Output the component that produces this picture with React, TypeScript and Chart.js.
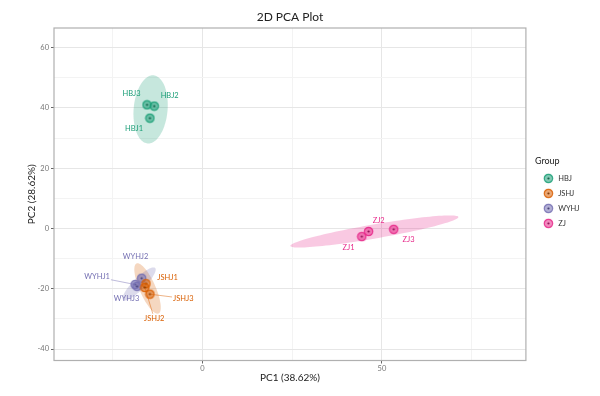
import React, { useEffect, useRef } from 'react';
import { Chart, registerables } from 'chart.js';

Chart.register(...registerables);

const FONT = 'Lato, "Liberation Sans", sans-serif';

const groups = ['HBJ', 'JSHJ', 'WYHJ', 'ZJ'];
const groupColors = ['#1B9E77', '#D95F02', '#7570B3', '#E7298A'];
const groupDark = ['#0d5a43', '#7a3401', '#3f3b70', '#8a0f4f'];

// samples per group (PC1 / PC2 scores)
const hbjSamples = ['HBJ1', 'HBJ2', 'HBJ3'];
const hbjPC1 = [-14.6, -13.4, -15.4];
const hbjPC2 = [36.6, 40.6, 41.0];

const jshjSamples = ['JSHJ1', 'JSHJ2', 'JSHJ3'];
const jshjPC1 = [-15.7, -16.0, -14.6];
const jshjPC2 = [-18.3, -19.6, -21.8];

const wyhjSamples = ['WYHJ1', 'WYHJ2', 'WYHJ3'];
const wyhjPC1 = [-18.7, -16.9, -18.2];
const wyhjPC2 = [-18.6, -16.5, -19.2];

const zjSamples = ['ZJ1', 'ZJ2', 'ZJ3'];
const zjPC1 = [44.4, 46.3, 53.3];
const zjPC2 = [-2.7, -1.0, -0.3];

// repelled label anchors (data units)
const hbjLabelX = [-19.0, -9.1, -19.7];
const hbjLabelY = [33.0, 44.2, 44.6];
const jshjLabelX = [-9.7, -13.4, -5.3];
const jshjLabelY = [-16.3, -29.8, -23.2];
const wyhjLabelX = [-29.3, -18.6, -21.1];
const wyhjLabelY = [-16.1, -9.4, -23.2];
const zjLabelX = [40.7, 49.1, 57.4];
const zjLabelY = [-6.4, 2.6, -3.8];

// confidence ellipses (centre and semi-axis vectors, data units)
const ellipseCX = [-14.4, -15.25, -17.6, 47.9];
const ellipseCY = [39.5, -19.9, -18.4, -1.0];
const ellipseMajorX = [0.84, 3.07, 4.46, 23.4];
const ellipseMajorY = [11.3, -8.3, 5.31, 4.8];
const ellipseMinorX = [4.7, 2.03, 1.18, 0.33];
const ellipseMinorY = [-0.5, 1.09, -1.4, -2.3];

const xMajorTicks = [0, 50];
const xMinorTicks = [-25, 25, 75];
const yMajorTicks = [-40, -20, 0, 20, 40, 60];
const yMinorTicks = [-30, -10, 10, 30, 50];

const groupSamples = [hbjSamples, jshjSamples, wyhjSamples, zjSamples];
const groupPC1 = [hbjPC1, jshjPC1, wyhjPC1, zjPC1];
const groupPC2 = [hbjPC2, jshjPC2, wyhjPC2, zjPC2];
const groupLabelX = [hbjLabelX, jshjLabelX, wyhjLabelX, zjLabelX];
const groupLabelY = [hbjLabelY, jshjLabelY, wyhjLabelY, zjLabelY];

function hexA(hex: string, a: number) {
  const r = parseInt(hex.slice(1, 3), 16);
  const g = parseInt(hex.slice(3, 5), 16);
  const b = parseInt(hex.slice(5, 7), 16);
  return `rgba(${r},${g},${b},${a})`;
}

function makeMarker(color: string, dark: string) {
  const c = document.createElement('canvas');
  c.width = 11;
  c.height = 11;
  const ctx = c.getContext('2d')!;
  ctx.beginPath();
  ctx.arc(5.5, 5.5, 4.2, 0, Math.PI * 2);
  ctx.fillStyle = hexA(color, 0.55);
  ctx.fill();
  ctx.lineWidth = 1.2;
  ctx.strokeStyle = hexA(color, 0.9);
  ctx.stroke();
  ctx.beginPath();
  ctx.arc(5.5, 5.5, 1.1, 0, Math.PI * 2);
  ctx.fillStyle = dark;
  ctx.fill();
  return c;
}

const ellipsePlugin = {
  id: 'ellipses',
  beforeDatasetsDraw(chart: any) {
    const { ctx, chartArea, scales } = chart;
    ctx.save();
    ctx.beginPath();
    ctx.rect(chartArea.left, chartArea.top, chartArea.right - chartArea.left, chartArea.bottom - chartArea.top);
    ctx.clip();
    groups.forEach((_, gi) => {
      ctx.beginPath();
      for (let k = 0; k <= 120; k++) {
        const t = (k / 120) * Math.PI * 2;
        const dx = ellipseCX[gi] + ellipseMajorX[gi] * Math.cos(t) + ellipseMinorX[gi] * Math.sin(t);
        const dy = ellipseCY[gi] + ellipseMajorY[gi] * Math.cos(t) + ellipseMinorY[gi] * Math.sin(t);
        const px = scales.x.getPixelForValue(dx);
        const py = scales.y.getPixelForValue(dy);
        if (k === 0) ctx.moveTo(px, py);
        else ctx.lineTo(px, py);
      }
      ctx.closePath();
      ctx.fillStyle = hexA(groupColors[gi], 0.25);
      ctx.fill();
    });
    ctx.restore();
  },
};

const labelPlugin = {
  id: 'sampleLabels',
  afterDatasetsDraw(chart: any) {
    const { ctx, scales } = chart;
    ctx.save();
    ctx.font = `7.5px ${FONT}`;
    ctx.textAlign = 'center';
    ctx.textBaseline = 'middle';
    groups.forEach((_, gi) => {
      groupSamples[gi].forEach((name, i) => {
        const px = scales.x.getPixelForValue(groupPC1[gi][i]);
        const py = scales.y.getPixelForValue(groupPC2[gi][i]);
        const lx = scales.x.getPixelForValue(groupLabelX[gi][i]);
        const ly = scales.y.getPixelForValue(groupLabelY[gi][i]);
        const hw = ctx.measureText(name).width / 2 + 1;
        const hh = 4.5;
        const dx = px - lx;
        const dy = py - ly;
        const dist = Math.hypot(dx, dy);
        if (dist > 25) {
          const s = Math.min(hw / Math.abs(dx || 1e-6), hh / Math.abs(dy || 1e-6));
          const ex = lx + dx * s;
          const ey = ly + dy * s;
          ctx.beginPath();
          ctx.moveTo(px, py);
          ctx.lineTo(ex, ey);
          ctx.strokeStyle = hexA(groupColors[gi], 0.6);
          ctx.lineWidth = 0.8;
          ctx.stroke();
        }
        ctx.fillStyle = groupColors[gi];
        ctx.fillText(name, lx, ly);
      });
    });
    ctx.restore();
  },
  afterDraw(chart: any) {
    const { ctx, chartArea } = chart;
    ctx.save();
    ctx.strokeStyle = '#b0b0b0';
    ctx.lineWidth = 1.2;
    ctx.strokeRect(chartArea.left, chartArea.top, chartArea.right - chartArea.left, chartArea.bottom - chartArea.top);
    ctx.restore();
  },
};

export default function App() {
  const ref = useRef<HTMLCanvasElement>(null);
  useEffect(() => {
    document.body.style.margin = '0';
    const markers = groups.map((_, gi) => makeMarker(groupColors[gi], groupDark[gi]));
    const datasets = groups.map((g, gi) => ({
      label: g,
      data: groupPC1[gi].map((x, i) => ({ x, y: groupPC2[gi][i] })),
      pointStyle: markers[gi],
      pointRadius: 5,
      backgroundColor: groupColors[gi],
      borderColor: groupColors[gi],
      showLine: false,
    }));
    const xAll = [...xMinorTicks, ...xMajorTicks].sort((a, b) => a - b);
    const yAll = [...yMinorTicks, ...yMajorTicks].sort((a, b) => a - b);
    const chart = new Chart(ref.current!, {
      type: 'scatter',
      data: { datasets },
      options: {
        animation: false,
        responsive: false,
        devicePixelRatio: 1,
        layout: { padding: { right: 10.5 } },
        plugins: {
          title: {
            display: true,
            text: '2D PCA Plot',
            fullSize: false,
            color: '#222',
            font: { size: 12, family: FONT, weight: 'normal' },
            padding: { top: 10, bottom: 3.6 },
          },
          legend: {
            position: 'right',
            align: 'center',
            title: {
              display: true,
              text: 'Group',
              color: '#222',
              position: 'start',
              font: { size: 9, family: FONT },
              padding: { top: -5, bottom: 0 },
            },
            labels: {
              usePointStyle: true,
              pointStyleWidth: 12,
              color: '#333',
              padding: 7.5,
              font: { size: 7.5, family: FONT },
            },
          },
          tooltip: { enabled: false },
        },
        scales: {
          x: {
            type: 'linear',
            min: -41.3,
            max: 90.1,
            afterBuildTicks: (s: any) => {
              s.ticks = xAll.map((v) => ({ value: v }));
            },
            afterFit: (s: any) => {
              s.height = 35.5;
            },
            ticks: {
              autoSkip: false,
              maxRotation: 0,
              padding: 1,
              color: '#777',
              font: { size: 7.5, family: FONT },
              callback: (v: any) => (xMajorTicks.includes(Number(v)) ? String(v) : ''),
            },
            grid: {
              color: (c: any) => (xMajorTicks.includes(c.tick?.value) ? '#e6e6e6' : '#f3f3f3'),
              tickColor: (c: any) => (xMajorTicks.includes(c.tick?.value) ? '#666' : 'rgba(0,0,0,0)'),
              tickLength: 3,
            },
            border: { display: false },
            title: {
              display: true,
              text: 'PC1 (38.62%)',
              color: '#222',
              font: { size: 10, family: FONT },
              padding: { top: 0, bottom: 12 },
            },
          },
          y: {
            type: 'linear',
            min: -43.8,
            max: 66.5,
            afterBuildTicks: (s: any) => {
              s.ticks = yAll.map((v) => ({ value: v }));
            },
            afterFit: (s: any) => {
              s.width = 54;
            },
            ticks: {
              autoSkip: false,
              padding: 2,
              color: '#777',
              font: { size: 7.5, family: FONT },
              callback: (v: any) => (yMajorTicks.includes(Number(v)) ? String(v) : ''),
            },
            grid: {
              color: (c: any) => (yMajorTicks.includes(c.tick?.value) ? '#e6e6e6' : '#f3f3f3'),
              tickColor: (c: any) => (yMajorTicks.includes(c.tick?.value) ? '#666' : 'rgba(0,0,0,0)'),
              tickLength: 3,
            },
            border: { display: false },
            title: {
              display: true,
              text: 'PC2 (28.62%)',
              color: '#222',
              font: { size: 10, family: FONT },
              padding: { top: 26, bottom: 0 },
            },
          },
          gap: {
            type: 'linear',
            position: 'right',
            display: true,
            grid: { display: false, drawTicks: false },
            ticks: { display: false },
            border: { display: false },
            afterFit: (s: any) => {
              s.width = 9;
            },
          },
        },
      },
      plugins: [ellipsePlugin, labelPlugin],
    } as any);
    return () => chart.destroy();
  }, []);
  return (
    <div style={{ width: 600, height: 396 }}>
      <canvas ref={ref} width={600} height={396} style={{ display: 'block' }} />
    </div>
  );
}
